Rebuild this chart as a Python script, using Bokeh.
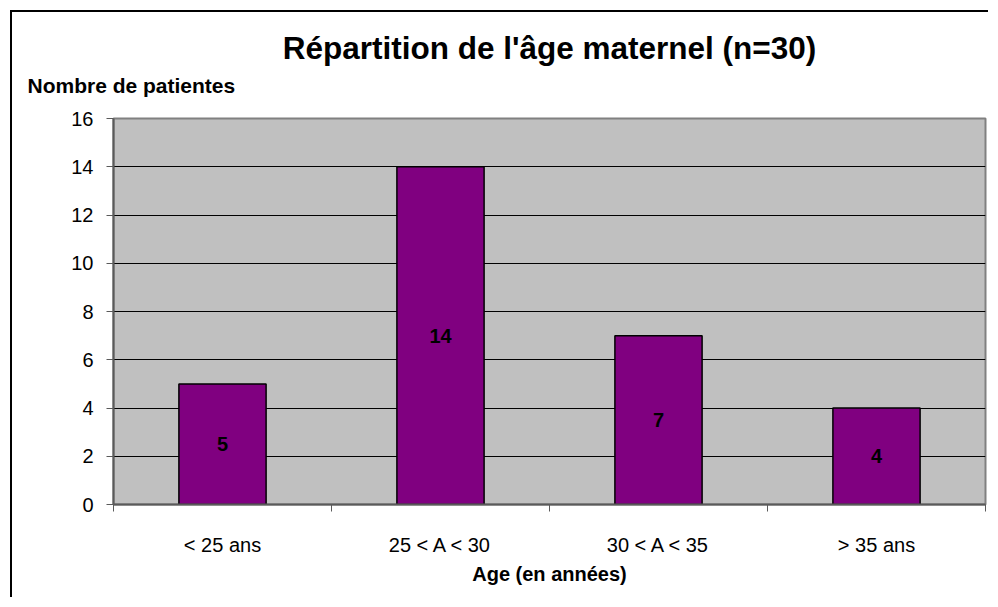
from bokeh.plotting import figure
from bokeh.models import ColumnDataSource, FixedTicker, Title, Range1d
from bokeh.core.properties import value
from bokeh.embed import file_html
from bokeh.resources import INLINE

categories = ["< 25 ans", "25 < A < 30", "30 < A < 35", "> 35 ans"]
counts = [5, 14, 7, 4]
y_ticks = [0, 2, 4, 6, 8, 10, 12, 14, 16]

title_text = "Répartition de l'âge maternel (n=30)"
y_label = "Nombre de patientes"
x_label = "Age (en années)"

FONT = "Liberation Sans"
AXIS_GREY = "#5a5a5a"

xc = [i + 0.5 for i in range(len(categories))]
bounds = [i for i in range(len(categories) + 1)]
src = ColumnDataSource(dict(
    x=xc, top=counts,
    mid=[c / 2 for c in counts],
    lbl=[str(c) for c in counts],
))

p = figure(width=978, height=587, output_backend="svg", toolbar_location=None,
           x_range=Range1d(0, len(categories)), y_range=Range1d(0, y_ticks[-1]),
           min_border_left=101, min_border_right=5, min_border_top=106, min_border_bottom=95,
           background_fill_color="#C0C0C0", border_fill_color="white", title=None)

# outer chart border (left/top visible as in the reference)
p.margin = (10, 0, 0, 10)
p.styles = {"border-left": "2px solid black", "border-top": "2px solid black"}

p.outline_line_color = "#808080"
p.outline_line_width = 2

# grid
p.xgrid.visible = False
p.ygrid.ticker = FixedTicker(ticks=y_ticks)
p.ygrid.grid_line_color = "black"
p.ygrid.grid_line_width = 1

# y axis
p.yaxis.ticker = FixedTicker(ticks=y_ticks)
p.yaxis.axis_line_color = AXIS_GREY
p.yaxis.axis_line_width = 2
p.yaxis.major_tick_line_color = AXIS_GREY
p.yaxis.major_tick_out = 7
p.yaxis.major_tick_in = 0
p.yaxis.minor_tick_line_color = None
p.yaxis.major_label_text_font = FONT
p.yaxis.major_label_text_font_size = "20px"
p.yaxis.major_label_text_color = "black"
p.yaxis.major_label_standoff = 13

# x axis: labels at category centres, ticks at category boundaries
p.xaxis.ticker = FixedTicker(ticks=xc, minor_ticks=bounds)
p.xaxis.major_label_overrides = {x: c for x, c in zip(xc, categories)}
p.xaxis.axis_line_color = AXIS_GREY
p.xaxis.axis_line_width = 2
p.xaxis.major_tick_line_color = None
p.xaxis.major_tick_out = 0
p.xaxis.major_tick_in = 0
p.xaxis.minor_tick_line_color = AXIS_GREY
p.xaxis.minor_tick_out = 7
p.xaxis.minor_tick_in = 0
p.xaxis.major_label_text_font = FONT
p.xaxis.major_label_text_font_size = "20px"
p.xaxis.major_label_text_color = "black"
p.xaxis.major_label_standoff = 22
p.xaxis.axis_label = x_label
p.xaxis.axis_label_text_font = FONT
p.xaxis.axis_label_text_font_size = "20px"
p.xaxis.axis_label_text_font_style = "bold"
p.xaxis.axis_label_text_color = "black"
p.xaxis.axis_label_standoff = 4

# bars
p.vbar(x="x", top="top", width=0.4, source=src,
       fill_color="#800080", line_color="black", line_width=1.5)

p.text(x="x", y="mid", text="lbl", source=src,
       text_align="center", text_baseline="middle",
       text_font=value(FONT), text_font_style="bold",
       text_font_size="20px", text_color="black")

# titles (first added is closest to the frame)
ylab = Title(text=y_label, align="left", offset=-86, standoff=44,
             text_font=FONT, text_font_size="21px", text_font_style="bold",
             text_color="black")
p.add_layout(ylab, "above")
main = Title(text=title_text, align="center", standoff=-32,
             text_font=FONT, text_font_size="31.5px", text_font_style="bold",
             text_color="black")
p.add_layout(main, "above")

open("out.html", "w").write(file_html(p, INLINE))
